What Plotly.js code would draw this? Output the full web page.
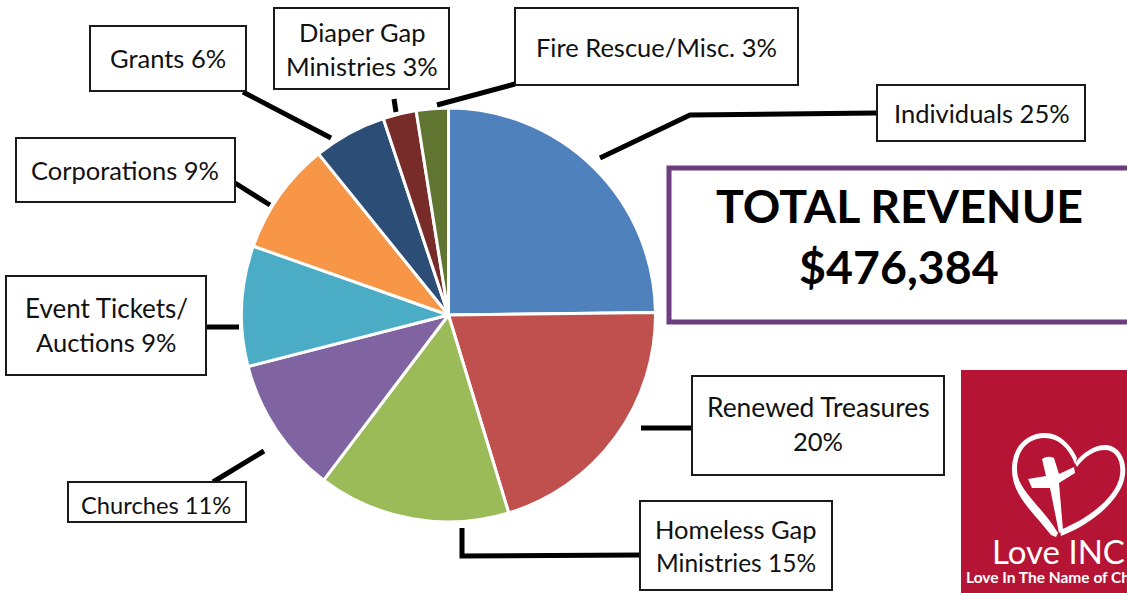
<!DOCTYPE html>
<html>
<head>
<meta charset="utf-8">
<script src="https://cdn.plot.ly/plotly-3.0.1.min.js"></script>
<style>html,body{margin:0;padding:0;background:#fff;overflow:hidden}#chart{width:1127px;height:593px}</style>
</head>
<body>
<div id="chart"></div>
<script>
var categories = ["Individuals","Renewed Treasures","Homeless Gap Ministries","Churches","Event Tickets/Auctions","Corporations","Grants","Diaper Gap Ministries","Fire Rescue/Misc."];
var shares = [24.8, 20.5, 15, 10.7, 9.4, 8.8, 5.7, 2.6, 2.5];
var sliceColors = ["#4f81bd","#c0504d","#9bbb59","#8064a2","#4bacc6","#f79646","#2c4d75","#772c2a","#5f7530"];

var W = 1127, H = 593;
function px(x){ return x / W; }
function py(y){ return 1 - y / H; }
function path(pts){
  return pts.map(function(p,i){ return (i ? "L" : "M") + px(p[0]) + "," + py(p[1]); }).join(" ");
}
// logo artwork is traced in reference pixels
function P(x,y){ return px(x) + "," + py(y); }

var FONT = "Lato, sans-serif";
var LABEL = 25.5;

var boxes = [
  [515,8,798,85],[274,8,449,89],[90,26,246,91],[16,138,235,202],[6,276,206,375],
  [68,482,246,522],[640,501,832,590],[692,376,944,475],[877,85,1085,141]
];
var leaders = [
  [[600,158],[690,115],[876,113]],
  [[437,105],[515,84]],
  [[394,99],[396,112]],
  [[243,92],[331,138]],
  [[235,183],[270,205]],
  [[206,327],[239,327]],
  [[213,482],[264,451]],
  [[462,528],[462,556],[640,555]],
  [[641,428],[692,428]]
];

var shapes = [];
leaders.forEach(function(l){
  shapes.push({type:"path",xref:"paper",yref:"paper",path:path(l),line:{color:"#000",width:5,join:"miter"}});
});
boxes.forEach(function(b){
  shapes.push({type:"rect",xref:"paper",yref:"paper",x0:px(b[0]),x1:px(b[2]),y0:py(b[1]),y1:py(b[3]),
    fillcolor:"#fff",line:{color:"#1a1a1a",width:2}});
});
// total box
shapes.push({type:"rect",xref:"paper",yref:"paper",x0:px(669),x1:px(1132),y0:py(168),y1:py(322),
  fillcolor:"#fff",line:{color:"#6c3d7f",width:5}});
// logo panel
shapes.push({type:"rect",xref:"paper",yref:"paper",x0:px(961),x1:px(1127),y0:py(370),y1:py(593),
  fillcolor:"#b61434",line:{width:0}});
// heart, left strand (filled ribbon)
shapes.push({type:"path",xref:"paper",yref:"paper",line:{width:0},fillcolor:"#fff",
  path:"M"+P(1051,535)+" C"+P(1033,512)+" "+P(1012,495)+" "+P(1012,470)+
       " C"+P(1012,445)+" "+P(1028,433)+" "+P(1045,433)+
       " C"+P(1060,433)+" "+P(1071,445)+" "+P(1077,458)+
       " L"+P(1075,464)+
       " C"+P(1068,447)+" "+P(1058,438)+" "+P(1045,438)+
       " C"+P(1030,438)+" "+P(1017,448)+" "+P(1017,470)+
       " C"+P(1017,490)+" "+P(1042,506)+" "+P(1058,533)+" L"+P(1056,537)+" Z"});
// heart, right strand
shapes.push({type:"path",xref:"paper",yref:"paper",line:{width:0},fillcolor:"#fff",
  path:"M"+P(1075,463)+" C"+P(1083,452)+" "+P(1095,445)+" "+P(1105,445)+
       " C"+P(1118,445)+" "+P(1127,458)+" "+P(1125,475)+
       " C"+P(1122,500)+" "+P(1090,525)+" "+P(1061,536)+
       " L"+P(1060,530)+
       " C"+P(1088,519)+" "+P(1117,497)+" "+P(1120,475)+
       " C"+P(1122,460)+" "+P(1115,450)+" "+P(1105,450)+
       " C"+P(1095,450)+" "+P(1085,456)+" "+P(1077,467)+" Z"});
// cross
shapes.push({type:"path",xref:"paper",yref:"paper",line:{width:0},fillcolor:"#fff",
  path:"M"+P(1042,459)+" Q"+P(1048,455)+" "+P(1054,458)+" L"+P(1059,474)+" L"+P(1074,467)+" L"+P(1075,473)+
       " L"+P(1059,483)+" L"+P(1063,530)+" L"+P(1059,533)+" L"+P(1050,488)+" L"+P(1032,488)+" L"+P(1028,479)+" L"+P(1046,476)+" Z"});

function t(text,x,y,size,extra){
  var a = {text:text,xref:"paper",yref:"paper",x:px(x),y:py(y),showarrow:false,xanchor:"center",yanchor:"middle",
    font:{family:FONT,size:size,color:"#111"}};
  for (var k in extra) a[k] = extra[k];
  return a;
}
var annotations = [
  t("Fire Rescue/Misc. 3%",656,47,LABEL),
  t("Diaper Gap",362,32,LABEL),
  t("Ministries 3%",362,66,LABEL),
  t("Grants 6%",168,58,LABEL),
  t("Corporations 9%",125,170,LABEL),
  t("Event Tickets/",106,308,26),
  t("Auctions 9%",106,342,LABEL),
  t("Churches 11%",156,505,23.7),
  t("Homeless Gap",736,529,LABEL),
  t("Ministries 15%",736,562,24.5),
  t("Renewed Treasures",818,407,26.4),
  t("20%",818,441,LABEL),
  t("Individuals 25%",982,113,LABEL),
  t("<b>TOTAL REVENUE</b>",899,205,46.5,{font:{family:FONT,size:46.5,color:"#000"}}),
  t("<b>$476,384</b>",899,266,46.5,{font:{family:FONT,size:46.5,color:"#000"}}),
  t("Love INC",1058,551,33,{font:{family:FONT,size:33,color:"#fff"}}),
  t("<b>Love In The Name of Christ</b>",964,577,15.5,{xanchor:"left",font:{family:FONT,size:15.5,color:"#fff"}})
];

var trace = {
  type:"pie",
  labels:categories,
  values:shares,
  sort:false,
  direction:"clockwise",
  rotation:0,
  textinfo:"none",
  hoverinfo:"label+percent",
  domain:{x:[px(241),px(656)],y:[py(522),py(108)]},
  marker:{colors:sliceColors,line:{color:"#ffffff",width:3}}
};
var layout = {
  width:W,height:H,margin:{l:0,r:0,t:0,b:0,pad:0},
  paper_bgcolor:"#fff",showlegend:false,
  shapes:shapes,annotations:annotations
};
Plotly.newPlot("chart",[trace],layout,{displayModeBar:false,staticPlot:true});
</script>
</body>
</html>
